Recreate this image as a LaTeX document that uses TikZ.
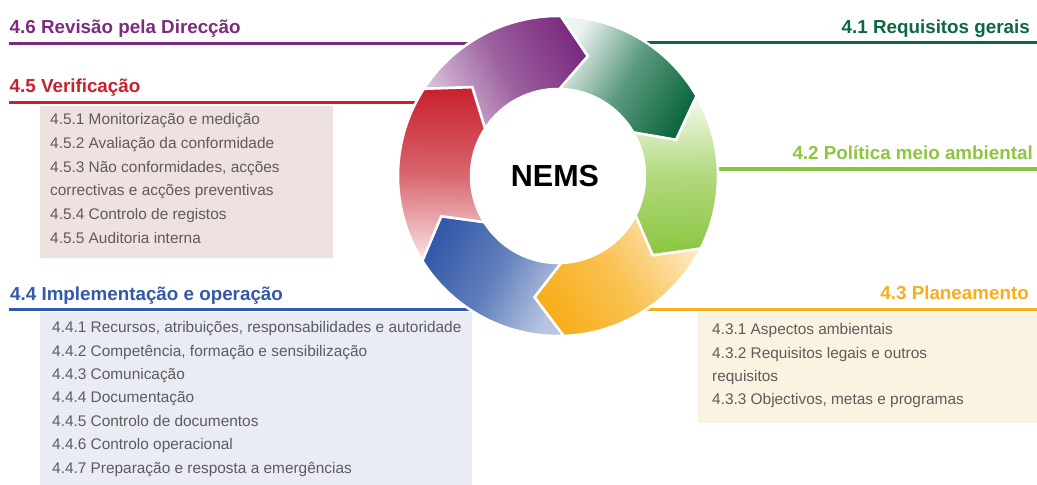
\documentclass[tikz,border=0pt]{standalone}
\usepackage{fontspec}
\setmainfont{Liberation Sans}

\definecolor{nemsPurple}{HTML}{7B2C80}
\definecolor{nemsRed}{HTML}{C8202D}
\definecolor{nemsBlue}{HTML}{3359A8}
\definecolor{nemsDarkGreen}{HTML}{0D6840}
\definecolor{nemsGreen}{HTML}{8CC63F}
\definecolor{nemsOrange}{HTML}{F8AE1C}
\definecolor{boxRed}{HTML}{EFE1DF}
\definecolor{boxBlue}{HTML}{E9ECF5}
\definecolor{boxOrange}{HTML}{FBF3E1}
\definecolor{itemGrey}{HTML}{5C5C5C}

\newcommand\NEMSPart[4] {
  \pgfmathsetmacro\NEMSmid{(#1+#2)/2}
  \pgfmathsetmacro\NEMSmidtint{100-0.35*(100-#4)}
  \shade[left color=#3!#4, right color=#3, middle color=#3!\NEMSmidtint,
         shading angle=\NEMSmid, draw=white, line width=2.5pt]
     (#1:160)
     arc[start angle=#1, end angle=#2, radius=160]
     -- (#2-13:123.5)
     -- (#2:87)
     arc[start angle=#2, end angle=#1, radius=87]
     -- (#1-13:123.5)
     -- cycle ;
}
\newcommand\NEMSRule[4] {
  \draw[line width=3.3pt, #1] (#2, #4) -- (#3, #4) ;
}

\begin{document}
\begin{tikzpicture}[x=1pt, y=1pt,
    head/.style={text=#1, inner sep=0pt, font=\fontsize{18.8}{22}\selectfont\bfseries},
    item/.style={text=itemGrey, inner sep=0pt, anchor=base west, font=\fontsize{15.4}{18}\selectfont}]
  \useasboundingbox (0, 0) rectangle (1037, 485) ;
  \fill[boxRed] (40, 227) rectangle (333, 379) ;
  \fill[boxBlue] (40, 0) rectangle (472, 173) ;
  \fill[boxOrange] (698, 62) rectangle (1037, 173) ;
  \NEMSRule{nemsPurple}{9}{480}{441.7}
  \NEMSRule{nemsRed}{9}{430}{382.3}
  \NEMSRule{nemsBlue}{9}{480}{175.7}
  \NEMSRule{nemsDarkGreen}{630}{1037}{442.3}
  \NEMSRule{nemsGreen}{710}{1037}{316}
  \NEMSRule{nemsOrange}{640}{1037}{175.7}
  \begin{scope}[shift={(558, 309)}]
    \NEMSPart{147}{89}{nemsPurple}{30}
    \NEMSPart{89}{30}{nemsDarkGreen}{8}
    \NEMSPart{30}{-27}{nemsGreen}{8}
    \NEMSPart{-27}{-88}{nemsOrange}{30}
    \NEMSPart{-88}{-148}{nemsBlue}{35}
    \NEMSPart{-148}{-213}{nemsRed}{12}
  \end{scope}
  \node[font=\fontsize{30.5}{34}\selectfont\bfseries, inner sep=0pt] (nems) at (555, 309) {NEMS} ;
  \node[head=nemsPurple, anchor=base west] (revisao) at (9.5, 451.7) {4.6 Revisão pela Direcção} ;
  \node[head=nemsRed, anchor=base west] (verificacao) at (9.5, 392.3) {4.5 Verificação} ;
  \node[head=nemsBlue, anchor=base west] (implementacao) at (10, 184.3) {4.4 Implementação e operação} ;
  \node[head=nemsDarkGreen, anchor=base east] (requisitos) at (1030, 451.7) {4.1 Requisitos gerais} ;
  \node[head=nemsGreen, anchor=base east] (politica) at (1033, 325) {4.2 Política meio ambiental} ;
  \node[head=nemsOrange, anchor=base east] (planeamento) at (1029, 185.7) {4.3 Planeamento} ;
  \foreach \t [count=\i from 0] in {{4.5.1 Monitorização e medição}, {4.5.2 Avaliação da conformidade},
      {4.5.3 Não conformidades, acções}, {correctivas e acções preventivas},
      {4.5.4 Controlo de registos}, {4.5.5 Auditoria interna}}
    \node[item] (ver\i) at (50, 360-23.66*\i) {\t} ;
  \foreach \t [count=\i from 0] in {{4.4.1 Recursos, atribuições, responsabilidades e autoridade},
      {4.4.2 Competência, formação e sensibilização}, {4.4.3 Comunicação},
      {4.4.4 Documentação}, {4.4.5 Controlo de documentos},
      {4.4.6 Controlo operacional}, {4.4.7 Preparação e resposta a emergências}}
    \node[item] (imp\i) at (52, 152.3-23.4*\i) {\t} ;
  \foreach \t [count=\i from 0] in {{4.3.1 Aspectos ambientais}, {4.3.2 Requisitos legais e outros},
      {requisitos}, {4.3.3 Objectivos, metas e programas}}
    \node[item] (pla\i) at (712, 150-23.3*\i) {\t} ;
\end{tikzpicture}
\end{document}
